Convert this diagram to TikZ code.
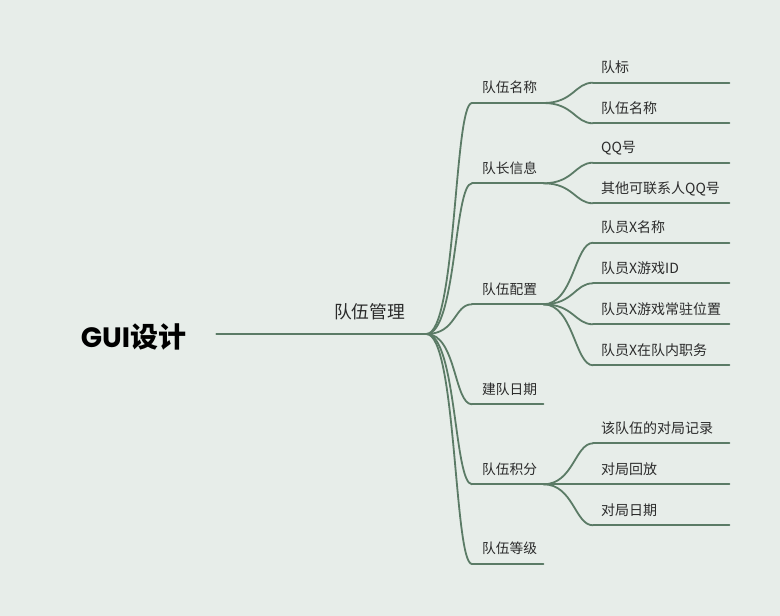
\documentclass[tikz,border=0pt]{standalone}
\usepackage{fontspec}
\setmainfont{Noto Sans CJK SC}
\newfontfamily\guifont{Poppins}
\usetikzlibrary{positioning}
\definecolor{bg}{HTML}{E7EDE9}
\definecolor{branch}{HTML}{5B7B66}
\definecolor{ink}{HTML}{2B2B2B}

\begin{document}
\begin{tikzpicture}[x=1pt, y=-1pt]
      \fill[bg] (0,0) rectangle (780,616);
      \useasboundingbox (0,0) rectangle (780,616);
      \node (R) [text height=31pt, text depth=5pt, inner xsep=30pt,
        font=\bfseries\fontsize{28}{31}\selectfont] at (133.5,334) {{\guifont GUI}设计};
      \begin{scope}[every node/.style={anchor=south west, inner xsep=0pt, inner ysep=8pt,
          text height=11pt, text depth=2pt, align=left, text=ink,
          font=\fontsize{13.75}{16}\selectfont}]
        \node (M) [text width=102pt, inner ysep=13.5pt, font=\fontsize{17.75}{20}\selectfont]
          at (324,334) {\hspace*{10pt}队伍管理};
      \end{scope}
      \begin{scope}[every node/.style={anchor=south west, inner xsep=0pt, inner ysep=8pt,
          text height=11pt, text depth=2pt, align=left, text=ink, text width=71pt,
          font=\fontsize{13.75}{16}\selectfont, execute at begin node=\hspace*{10pt}}]
        \node (A) at (472,103) {队伍名称};
        \node (B) at (472,183.3) {队长信息};
        \node (C) at (472,304.3) {队伍配置};
        \node (D) at (472,404.3) {建队日期};
        \node (E) at (472,484.3) {队伍积分};
        \node (F) at (472,564) {队伍等级};
      \end{scope}
      \begin{scope}[every node/.style={anchor=south west, inner xsep=0pt, inner ysep=8pt,
          text height=11pt, text depth=2pt, align=left, text=ink, text width=136pt,
          font=\fontsize{14}{16}\selectfont, execute at begin node=\hspace*{8pt}}]
        \node (A1) at (593,82.7) {队标};
        \node (A2) at (593,123.3) {队伍名称};
        \node (B1) at (593,162.7) {QQ号};
        \node (B2) at (593,203.3) {其他可联系人QQ号};
        \node (C1) at (593,242.7) {队员X名称};
        \node (C2) at (593,283.3) {队员X游戏ID};
        \node (C3) at (593,324.3) {队员X游戏常驻位置};
        \node (C4) at (593,365.3) {队员X在队内职务};
        \node (E1) at (593,443.3) {该队伍的对局记录};
        \node (E2) at (593,484.3) {对局回放};
        \node (E3) at (593,525.3) {对局日期};
      \end{scope}
      \begin{scope}
        [every edge/.style={draw=branch, line width=1.8pt, line cap=round},
        curvy/.style={to path={.. controls +(30,0) and +(-18,0) .. (\tikztotarget)}}]
        \path (R.east) edge[line width=2.2pt] (M.south west);
        \foreach \n in {M,A,B,C,D,E,F,A1,A2,B1,B2,C1,C2,C3,C4,E1,E2,E3}
          \path (\n.south west) edge (\n.south east);
        \path (M.south east) edge[curvy] (A.south west);
        \path (M.south east) edge[curvy] (B.south west);
        \path (M.south east) edge[curvy] (C.south west);
        \path (M.south east) edge[curvy] (D.south west);
        \path (M.south east) edge[curvy] (E.south west);
        \path (M.south east) edge[curvy] (F.south west);
        \path (A.south east) edge[curvy] (A1.south west);
        \path (A.south east) edge[curvy] (A2.south west);
        \path (B.south east) edge[curvy] (B1.south west);
        \path (B.south east) edge[curvy] (B2.south west);
        \path (C.south east) edge[curvy] (C1.south west);
        \path (C.south east) edge[curvy] (C2.south west);
        \path (C.south east) edge[curvy] (C3.south west);
        \path (C.south east) edge[curvy] (C4.south west);
        \path (E.south east) edge[curvy] (E1.south west);
        \path (E.south east) edge[curvy] (E2.south west);
        \path (E.south east) edge[curvy] (E3.south west);
      \end{scope}
    \end{tikzpicture}
\end{document}
